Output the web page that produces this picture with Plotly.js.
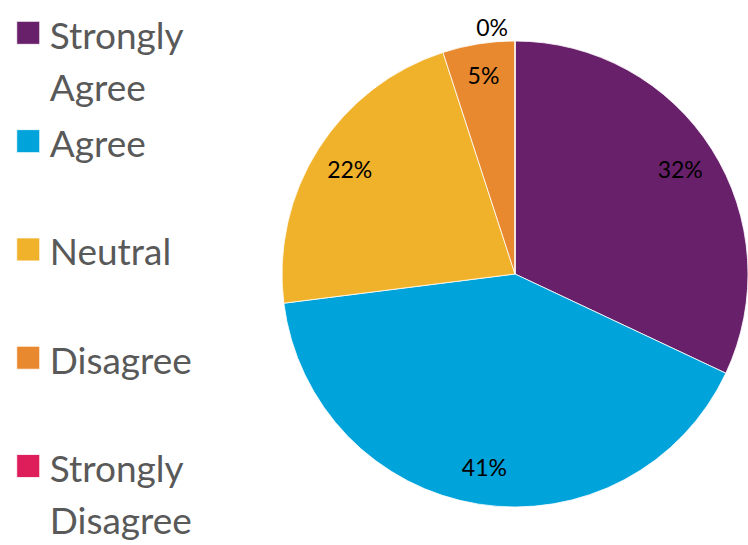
<!DOCTYPE html>
<html>
<head>
<meta charset="utf-8">
<script src="https://cdn.plot.ly/plotly-3.0.1.min.js"></script>
<style>html,body{margin:0;padding:0;background:#fff;}#chart{width:748px;height:545px;}</style>
</head>
<body>
<div id="chart"></div>
<script>
var categories = ["Strongly Agree", "Agree", "Neutral", "Disagree", "Strongly Disagree"];
var legendLines = [["Strongly", "Agree"], ["Agree", "\u00a0"], ["Neutral", "\u00a0"], ["Disagree", "\u00a0"], ["Strongly", "Disagree"]];
var values = [32, 41, 22, 5, 0];
var colors = ["#68206A", "#00A3DA", "#F0B12B", "#E8892F", "#DD1E5A"];

var labelSpan = function (lines) {
  return lines.map(function (s) { return "<span style='font-size:37px'>" + s + "</span>"; }).join("<br>");
};
var legendLabels = legendLines.map(labelSpan);
var pieDomain = { x: [282 / 748, 1], y: [1 - 507 / 545, 1 - 41 / 545] };

// main pie: slices + legend
var slices = {
  type: "pie",
  labels: legendLabels,
  values: values,
  sort: false,
  direction: "clockwise",
  rotation: 0,
  marker: { colors: colors, line: { color: "#ffffff", width: 0.8 } },
  textinfo: "none",
  domain: pieDomain,
  hoverinfo: "none"
};

// transparent ring over the pie, used only to place the percentage labels near the rim
var labelRing = {
  type: "pie",
  labels: categories,
  values: values,
  sort: false,
  direction: "clockwise",
  rotation: 0,
  hole: 0.68,
  showlegend: false,
  marker: { colors: ["rgba(0,0,0,0)", "rgba(0,0,0,0)", "rgba(0,0,0,0)", "rgba(0,0,0,0)", "rgba(0,0,0,0)"], line: { width: 0 } },
  texttemplate: "%{percent:.0%}",
  textposition: ["inside", "inside", "inside", "inside", "outside"],
  insidetextorientation: "horizontal",
  textfont: { family: "Lato, sans-serif", size: 23, color: "#000000" },
  domain: pieDomain,
  hoverinfo: "none"
};

var layout = {
  width: 748,
  height: 545,
  margin: { l: 0, r: 0, t: 0, b: 0 },
  paper_bgcolor: "#ffffff",
  showlegend: true,
  legend: {
    x: 0.009, y: 1, xanchor: "left", yanchor: "top",
    font: { family: "Lato, sans-serif", size: 40.5, color: "#595959" },
    valign: "top",
    itemwidth: 33,
    maxheight: 900,
    bgcolor: "rgba(0,0,0,0)"
  }
};

Plotly.newPlot("chart", [slices, labelRing], layout, { staticPlot: true }).then(function () {
  document.querySelectorAll(".legendpie").forEach(function (p) {
    p.setAttribute("d", "M11.5,11.5H-11.5V-11.5H11.5Z");
  });
});
</script>
</body>
</html>
